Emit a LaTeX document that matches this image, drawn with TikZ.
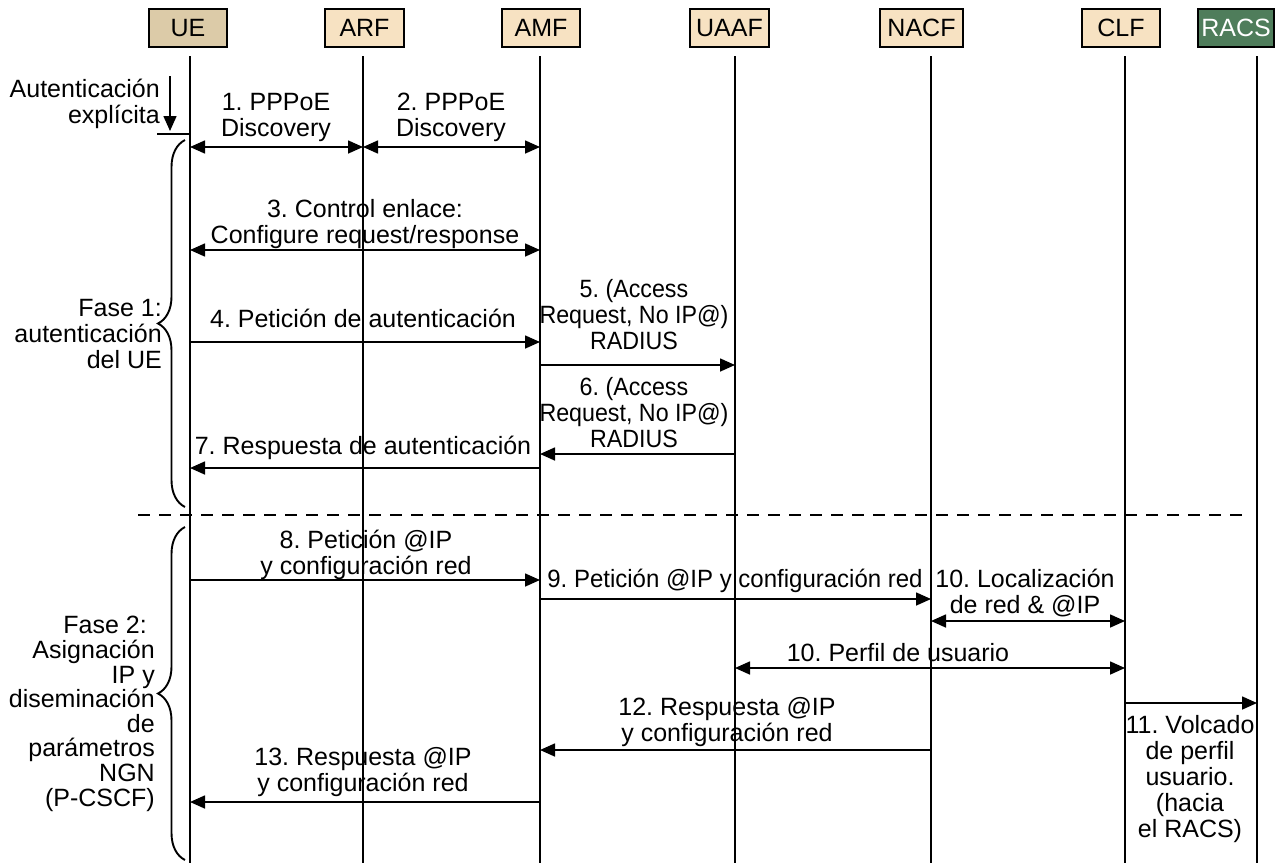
\documentclass[tikz,border=0pt]{standalone}
\usepackage{fontspec}
\setmainfont{Liberation Sans}
\newfontfamily\narrowsans[FakeStretch=0.93]{Liberation Sans}
\newfontfamily\slimsans[FakeStretch=0.96]{Liberation Sans}
\usetikzlibrary{arrows.meta,decorations.pathreplacing}
\definecolor{uefill}{HTML}{DCCBA8}
\definecolor{nefill}{HTML}{F7E2C2}
\definecolor{racsfill}{HTML}{4F7D5B}
\frenchspacing

\begin{document}
\begin{tikzpicture}[x=1pt,y=-1pt,
  font=\fontsize{25}{26}\selectfont,
  entity/.style={draw=black,line width=1.6pt,minimum height=38pt,inner sep=0pt,fill=nefill},
  life/.style={line width=1.4pt},
  msg/.style={line width=1.6pt,-{Triangle[length=15pt,width=13pt]}},
  dmsg/.style={line width=1.6pt,{Triangle[length=15pt,width=13pt]}-{Triangle[length=15pt,width=13pt]}},
  lbl/.style={align=center,inner sep=0pt,anchor=base},
  narrow/.style={font=\narrowsans\fontsize{25}{26}\selectfont},
  slim/.style={font=\slimsans\fontsize{25}{26}\selectfont},
  side/.style={align=right,inner sep=0pt,anchor=base east},
  phase/.style={line width=1.9pt,decorate,decoration={brace,amplitude=27pt,aspect=0.5}},
  sep/.style={line width=1.8pt,dash pattern=on 12pt off 9pt},
]
\useasboundingbox (0,0) rectangle (1282,863);

% entity boxes
\node[entity,fill=uefill,minimum width=78pt] (ue)   at (188,28)  {UE};
\node[entity,minimum width=79pt] (arf)  at (364.5,28) {ARF};
\node[entity,minimum width=78pt] (amf)  at (541,28)  {AMF};
\node[entity,minimum width=79pt] (uaaf) at (729.5,28) {UAAF};
\node[entity,minimum width=83pt] (nacf) at (921.5,28) {NACF};
\node[entity,minimum width=78pt] (clf)  at (1121,28) {CLF};
\node[entity,fill=racsfill,text=white,minimum width=76pt] (racs) at (1236,28) {RACS};

% lifelines
\coordinate (ueL)   at (190,56);
\coordinate (arfL)  at (363,56);
\coordinate (amfL)  at (540,56);
\coordinate (uaafL) at (735,56);
\coordinate (nacfL) at (931,56);
\coordinate (clfL)  at (1125,56);
\coordinate (racsL) at (1257,56);
\foreach \l in {ueL,arfL,amfL,uaafL,nacfL,clfL,racsL}
  \draw[life] (\l) -- (\l |- 0,863);

% explicit authentication trigger (base anchor = last text line)
\coordinate (expTop) at (170,76);
\coordinate (expTip) at (170,131);
\coordinate (expBar) at (157,134);
\draw[msg] (expTop) -- (expTip);
\draw[life] (expBar) -- (ueL |- expBar);
\node[side] (expl) at (160,123) {Autenticación\\explícita};

% phase braces
\coordinate (ph1a) at (185,507);
\coordinate (ph1b) at (185,140);
\coordinate (ph2a) at (185,860);
\coordinate (ph2b) at (185,527);
\draw[phase] (ph1a) -- (ph1b);
\draw[phase] (ph2a) -- (ph2b);
\node[side] (fase1) at (162,368) {Fase 1:\\autenticación\hspace*{7pt}\\del UE};
\node[side,font=\fontsize{25}{24.6}\selectfont] (fase2) at (155,806)
  {Fase 2:\hspace*{8pt}\\Asignación\\IP y\\diseminación\\de\\parámetros\\NGN\\(P-CSCF)};

% phase separator
\coordinate (sepL) at (138,515);
\coordinate (sepR) at (1245,515);
\draw[sep] (sepL) -- (sepR);

% phase 1 messages
\draw[dmsg] (ueL |- 0,147) -- (arfL |- 0,147);
\node[lbl] (m1) at (276,136) {1. PPPoE\\Discovery};
\draw[dmsg] (arfL |- 0,147) -- (amfL |- 0,147);
\node[lbl] (m2) at (451,136) {2. PPPoE\\Discovery};

\draw[dmsg] (ueL |- 0,250) -- (amfL |- 0,250);
\node[lbl] (m3) at (365,243) {3. Control enlace:\\Configure request/response};

\draw[msg] (ueL |- 0,342) -- (amfL |- 0,342);
\node[lbl] (m4) at (363,327) {4. Petición de autenticación};

\draw[msg] (amfL |- 0,365) -- (uaafL |- 0,365);
\node[lbl,narrow] (m5) at (634,349) {5. (Access\\Request, No IP@)\\RADIUS};

\draw[msg] (uaafL |- 0,454) -- (amfL |- 0,454);
\node[lbl,narrow] (m6) at (634,447) {6. (Access\\Request, No IP@)\\RADIUS};

\draw[msg] (amfL |- 0,468) -- (ueL |- 0,468);
\node[lbl] (m7) at (363,454) {7. Respuesta de autenticación};

% phase 2 messages
\draw[msg] (ueL |- 0,580) -- (amfL |- 0,580);
\node[lbl] (m8) at (366,574) {8. Petición @IP\\y configuración red};

\draw[msg] (amfL |- 0,599) -- (nacfL |- 0,599);
\node[lbl,slim] (m9) at (735,587) {9. Petición @IP y configuración red};

\draw[dmsg] (nacfL |- 0,621) -- (clfL |- 0,621);
\node[lbl] (m10a) at (1025,613) {10. Localización\\de red \& @IP};

\draw[dmsg] (uaafL |- 0,668) -- (clfL |- 0,668);
\node[lbl] (m10b) at (898,661) {10. Perfil de usuario};

\draw[msg] (clfL |- 0,703) -- (racsL |- 0,703);
\node[lbl] (m11) at (1190,837) {11. Volcado\\de perfil\\usuario.\\(hacia\\el RACS)};

\draw[msg] (nacfL |- 0,750) -- (amfL |- 0,750);
\node[lbl] (m12) at (727,741) {12. Respuesta @IP\\y configuración red};

\draw[msg] (amfL |- 0,802) -- (ueL |- 0,802);
\node[lbl] (m13) at (363,791) {13. Respuesta @IP\\y configuración red};
\end{tikzpicture}
\end{document}
